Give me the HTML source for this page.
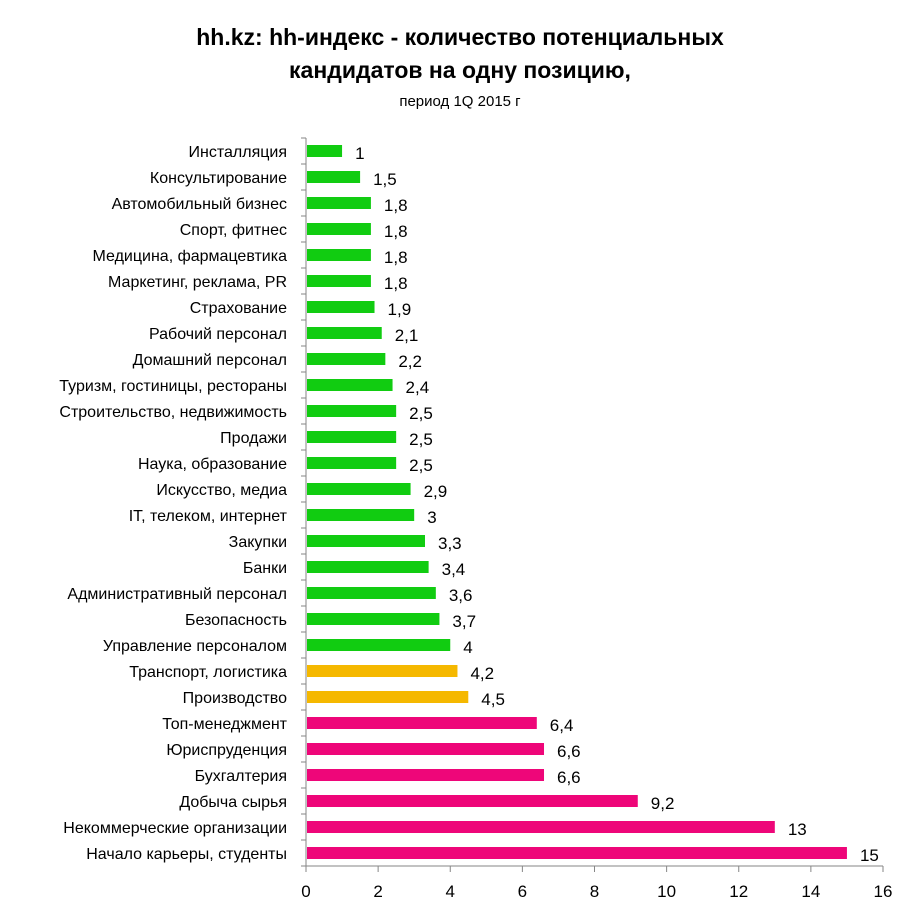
<!DOCTYPE html>
<html><head><meta charset="utf-8"><style>
body{margin:0;background:#fff;font-family:"Liberation Sans",Arial,sans-serif;}
svg text{font-family:"Liberation Sans",Arial,sans-serif;}
</style></head><body>
<svg id="chart" width="920" height="919">
<text x="460" y="45" text-anchor="middle" font-size="23" font-weight="bold" fill="#000">hh.kz: hh-индекс - количество потенциальных</text>
<text x="460" y="78" text-anchor="middle" font-size="23" font-weight="bold" fill="#000">кандидатов на одну позицию,</text>
<text x="460" y="106" text-anchor="middle" font-size="15" fill="#000">период 1Q 2015 г</text>
<g id="plot"></g>
</svg>
<script>
const categories=["Инсталляция","Консультирование","Автомобильный бизнес","Спорт, фитнес","Медицина, фармацевтика","Маркетинг, реклама, PR","Страхование","Рабочий персонал","Домашний персонал","Туризм, гостиницы, рестораны","Строительство, недвижимость","Продажи","Наука, образование","Искусство, медиа","IT, телеком, интернет","Закупки","Банки","Административный персонал","Безопасность","Управление персоналом","Транспорт, логистика","Производство","Топ-менеджмент","Юриспруденция","Бухгалтерия","Добыча сырья","Некоммерческие организации","Начало карьеры, студенты"];
const values=[1,1.5,1.8,1.8,1.8,1.8,1.9,2.1,2.2,2.4,2.5,2.5,2.5,2.9,3,3.3,3.4,3.6,3.7,4,4.2,4.5,6.4,6.6,6.6,9.2,13,15];
const groups=["g","g","g","g","g","g","g","g","g","g","g","g","g","g","g","g","g","g","g","g","o","o","p","p","p","p","p","p"];
const ticks=[0,2,4,6,8,10,12,14,16];
const colors={g:"#11cc11",o:"#f5b800",p:"#ee0679"};
const NS="http://www.w3.org/2000/svg";
const g=document.getElementById("plot");
const x0=306,x1=883,yTop=138,yBot=866;
const xs=v=>x0+(x1-x0)*v/16;
const n=categories.length;
const step=(yBot-yTop)/n;
const yc=i=>yTop+step*(i+0.5);
function mk(t,a){const e=document.createElementNS(NS,t);for(const k in a)e.setAttribute(k,a[k]);g.appendChild(e);return e;}
let ax=mk("line",{x1:x0,y1:yTop,x2:x0,y2:yBot,stroke:"#868686"});


let bx=mk("line",{x1:x0,y1:yBot,x2:x1,y2:yBot,stroke:"#868686"});


for(let i=0;i<=n;i++){mk("line",{x1:x0-5,x2:x0,y1:yTop+step*i,y2:yTop+step*i,stroke:"#868686"});}
ticks.forEach(t=>{
 mk("line",{x1:xs(t),x2:xs(t),y1:yBot,y2:yBot+6,stroke:"#868686"});
 const tx=mk("text",{x:xs(t),y:yBot+31,"text-anchor":"middle","font-size":"17",fill:"#000"});
 tx.textContent=t;
 
 
});
categories.forEach((c,i)=>{
 const y=yc(i);
 const lb=mk("text",{x:x0-19,y:y+6,"text-anchor":"end","font-size":"16",fill:"#000"});
 lb.textContent=c;
 
 
 const r=mk("rect",{x:x0+1,y:y-6,width:xs(values[i])-x0-1,height:12,fill:colors[groups[i]]});
 
 
 const v=mk("text",{x:xs(values[i])+13,y:y+8,"font-size":"17",fill:"#000"});
 v.textContent=String(values[i]).replace(".",",");
 
 
});
</script>
</body></html>
